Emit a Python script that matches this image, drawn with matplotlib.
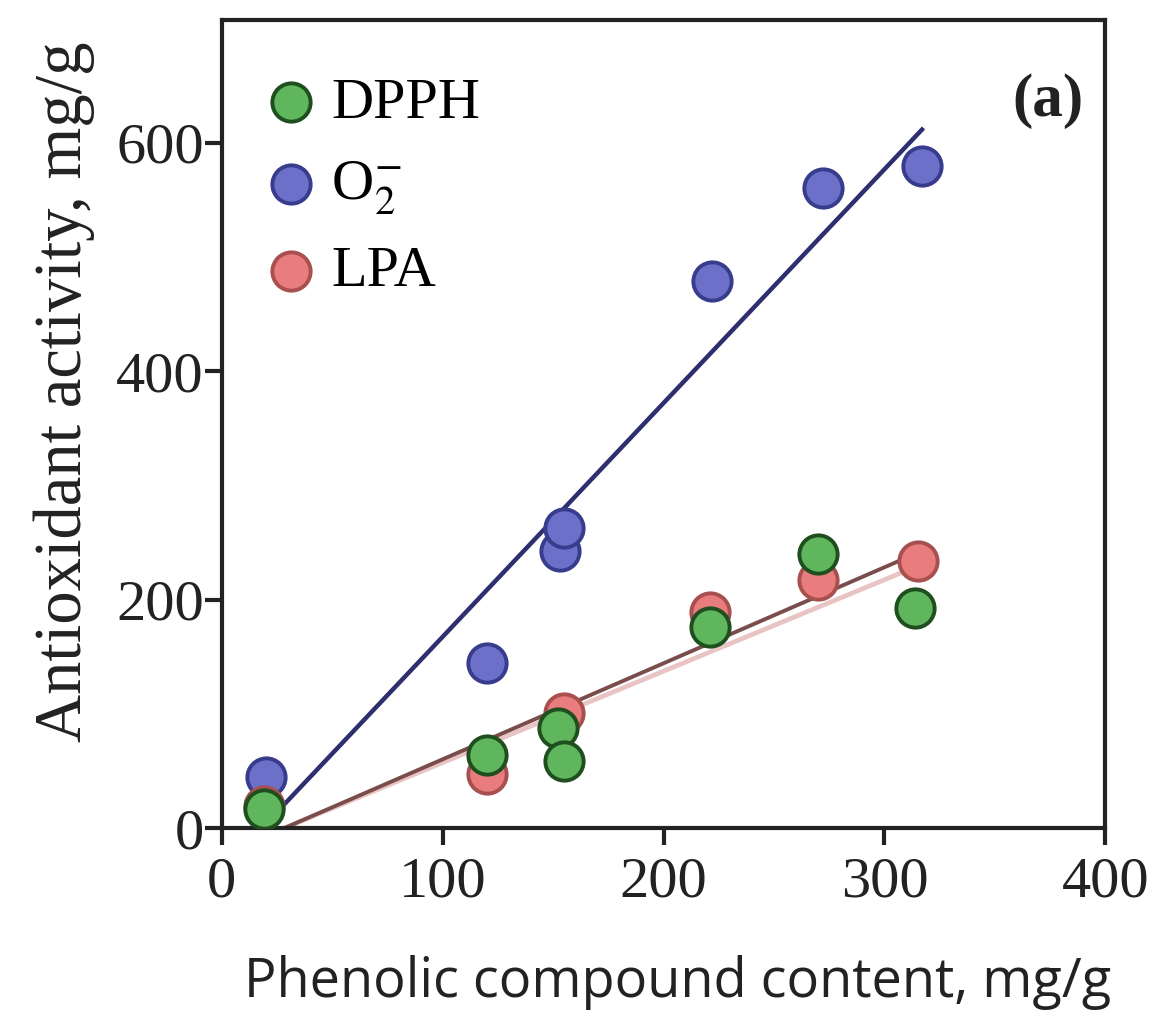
import matplotlib.pyplot as plt
import numpy as np

# phenolic content (x) and antioxidant activity (y), mg/g
dpph_x = [19, 120, 152, 155, 221, 270, 314]
dpph_y = [17, 64, 88, 59, 176, 240, 193]
o2_x = [20, 120, 153, 155, 222, 272, 317]
o2_y = [45, 145, 243, 263, 479, 560, 580]
lpa_x = [19, 120, 155, 221, 270, 315]
lpa_y = [20, 48, 101, 189, 217, 234]

# fitted lines: (x start, x end, slope, intercept)
o2_fit = (18, 317, 2.045, -36.8)
lpa_fit = (28, 307, 0.84, -23.5)
dpph_fit = (28, 308, 0.80, -22.4)

plt.rcParams['font.family'] = ['Liberation Serif', 'DejaVu Serif']
plt.rcParams['mathtext.fontset'] = 'stix'

fig = plt.figure(figsize=(11.49, 10.19), dpi=100)
ax = fig.add_axes([0.193, 0.187, 0.769, 0.793])

def fit_line(fit, **kw):
    xs = np.array([fit[0], fit[1]])
    ax.plot(xs, fit[2] * xs + fit[3], **kw)

fit_line(o2_fit, color='#2e2f6e', lw=3.2, zorder=2)
fit_line(dpph_fit, color='#e8c4c4', lw=3.4, zorder=2)
fit_line(lpa_fit, color='#7a4c4c', lw=2.8, zorder=2)

ms = 760
ax.scatter(o2_x, o2_y, s=ms, color='#6c70c9', edgecolor='#383c8c', lw=2.8, zorder=3, label=r'O$_2^{-}$')
ax.scatter(lpa_x, lpa_y, s=ms, color='#e97c7c', edgecolor='#a85050', lw=2.8, zorder=3, label='LPA')
ax.scatter(dpph_x, dpph_y, s=ms, color='#5fb65c', edgecolor='#1f4f1f', lw=2.8, zorder=4, label='DPPH')

handles, labels = ax.get_legend_handles_labels()
order = [2, 0, 1]
ax.legend([handles[i] for i in order], [labels[i] for i in order],
          loc='upper left', frameon=False, fontsize=42, handlelength=0.8,
          handletextpad=0.3, labelspacing=0.49, borderaxespad=0.0,
          bbox_to_anchor=(0.025, 0.959))

ax.text(0.975, 0.9, '(a)', transform=ax.transAxes, ha='right', va='center',
        fontsize=44, fontweight='bold', color='#222222')

ax.set_xlim(0, 400)
ax.set_ylim(0, 707)
ax.set_xticks([0, 100, 200, 300, 400])
ax.set_yticks([0, 200, 400, 600])
ax.tick_params(direction='out', length=12, width=3, labelsize=42, colors='#222222', pad=1)
ax.tick_params(axis='x', pad=8)
for s in ax.spines.values():
    s.set_linewidth(3)
    s.set_color('#222222')

ax.set_xlabel('Phenolic compound content, mg/g', fontsize=39, family=['Open Sans', 'DejaVu Sans'],
              color='#222222')
ax.set_ylabel('Antioxidant activity, mg/g', fontsize=48, color='#222222')
ax.xaxis.set_label_coords(0.516, -0.157)
ax.yaxis.set_label_coords(-0.144, 0.54)

fig.savefig('out.png', dpi=100)
